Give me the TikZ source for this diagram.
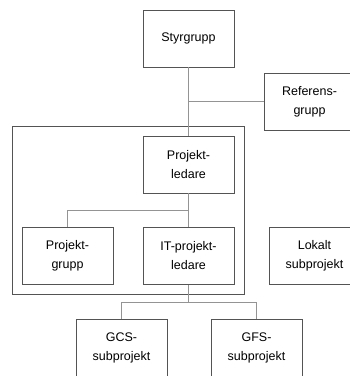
\documentclass[tikz,border=0pt]{standalone}
\usepackage{fontspec}
\setmainfont{Liberation Sans}

\definecolor{boxgray}{gray}{0.33}
\definecolor{linegray}{gray}{0.58}

\tikzset{
  orgbox/.style={draw=boxgray, line width=0.9pt, rectangle, minimum width=91pt,
    minimum height=57pt, inner sep=0pt, align=center,
    font=\fontsize{12.5}{19}\selectfont},
  conn/.style={draw=linegray, line width=1pt}
}

\begin{document}
\begin{tikzpicture}[x=1pt,y=-1pt]
\useasboundingbox (0,0) rectangle (350,376);
\clip (0,0) rectangle (350,376);

% Boxes
\node [orgbox] (styr) at (188.5,38.5) {Styrgrupp};
\node [orgbox] (ref) at (309.5,101.5) {Referens-\\grupp};
\node [orgbox] (pl) at (188.5,164.5) {Projekt-\\ledare};
\node [orgbox] (pg) at (67.5,256) {Projekt-\\grupp};
\node [orgbox] (itpl) at (188.5,256) {IT-projekt-\\ledare};
\node [orgbox] (lok) at (314.5,256) {Lokalt\\subprojekt};
\node [orgbox] (gcs) at (121.5,347.5) {GCS-\\subprojekt};
\node [orgbox] (gfs) at (256.5,347.5) {GFS-\\subprojekt};

% Frame round the project
\draw [draw=boxgray, line width=0.9pt] (12,126) rectangle (244,294);

% Styrgrupp to Projektledare, Referensgrupp
\draw [conn] (styr.south) -- (pl.north);
\coordinate (refjoin) at (styr.south |- ref.west);
\draw [conn] (refjoin) -- (ref.west);

% Projektledare to Projektgrupp, IT-projektledare
\draw [conn] (pl.south) -- (itpl.north);
\coordinate (pgjoin) at (pl.south |- 0,210);
\draw [conn] (pgjoin) -| (pg.north);

% IT-projektledare to the subprojects
\coordinate (subjoin) at (itpl.south |- 0,302);
\draw [conn] (itpl.south) -- (subjoin);
\draw [conn] (subjoin) -| (gcs.north);
\draw [conn] (subjoin) -| (gfs.north);

\end{tikzpicture}
\end{document}
